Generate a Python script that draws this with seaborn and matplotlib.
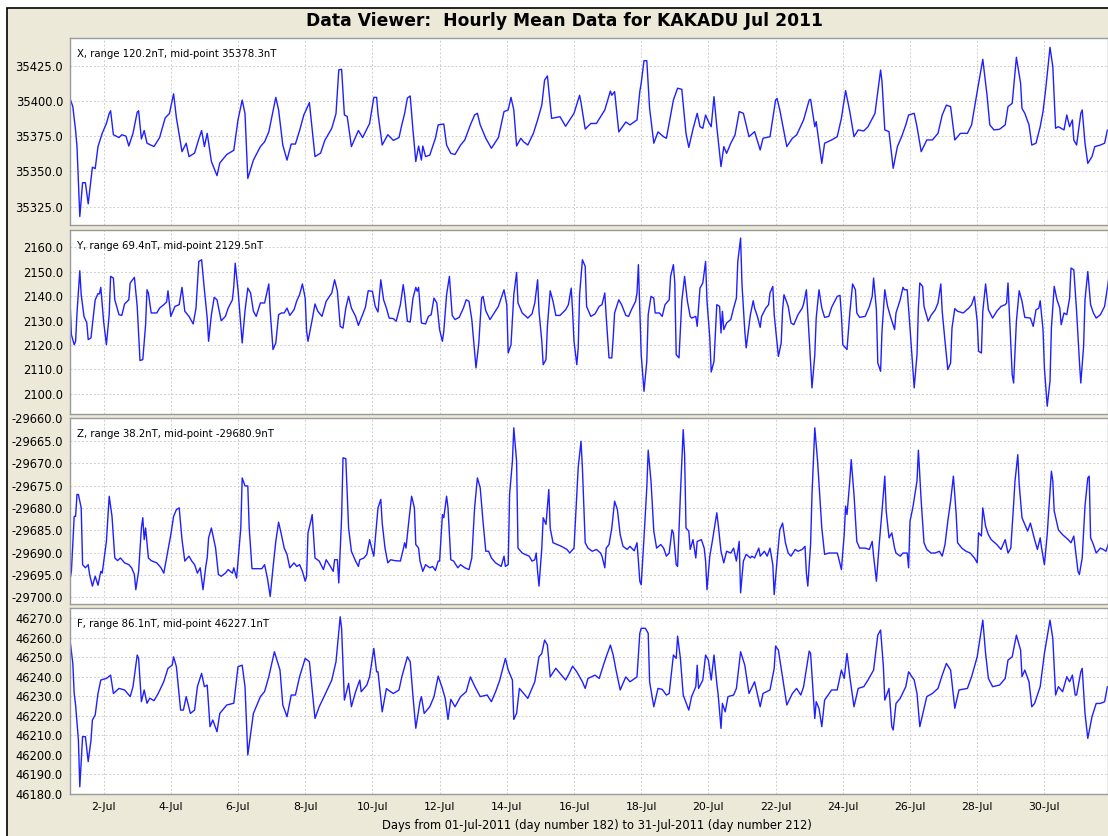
import numpy as np
import pandas as pd
import matplotlib
matplotlib.use("Agg")
import matplotlib.pyplot as plt
from matplotlib.patches import Rectangle
import seaborn as sns

# ----- Data (hourly means, read off the viewer at turning points) -----
# hours since 01-Jul-2011 00:00 UT
x_hours = [0, 2, 4, 5, 7, 9, 11, 13, 16, 18, 20, 23, 26, 28, 29, 31, 35, 37, 40, 42, 45, 48, 49, 51, 53, 55, 60, 64, 68, 71,
           74, 76, 80, 83, 85, 89, 92, 94, 96, 98, 101, 105, 107, 112, 117, 120, 123, 125, 127, 131, 136, 139, 142, 147, 149,
           152, 155, 158, 161, 164, 167, 171, 175, 179, 182, 187, 190, 192, 194, 196, 198, 201, 206, 209, 214, 217, 219, 220,
           223, 227, 231, 235, 237, 239, 241, 243, 245, 247, 249, 251, 252, 254, 257, 261, 263, 267, 269, 272, 275, 279, 282,
           286, 289, 291, 293, 297, 301, 306, 310, 313, 315, 317, 319, 322, 324, 327, 331, 334, 337, 339, 341, 344, 350, 354,
           360, 364, 365, 368, 372, 376, 382, 386, 387, 389, 392, 397, 400, 405, 407, 408, 410, 412, 414, 417, 420, 424, 426,
           431, 434, 437, 440, 442, 445, 448, 450, 452, 454, 456, 458, 460, 462, 465, 467, 469, 472, 475, 478, 481, 485, 489,
           493, 495, 500, 504, 505, 507, 512, 516, 519, 524, 528, 529, 532, 533, 537, 539, 544, 548, 551, 554, 557, 560, 563,
           567, 570, 575, 579, 580, 582, 585, 588, 591, 594, 597, 599, 603, 605, 608, 612, 616, 620, 623, 626, 629, 632, 636,
           641, 644, 648, 652, 655, 657, 660, 664, 668, 670, 673, 676, 679, 680, 682, 685, 687, 690, 693, 695, 697, 700, 702,
           704, 706, 710, 712, 714, 716, 717, 719, 722, 723, 725, 727, 730, 732, 736, 739, 741]
x_vals = [35401.8, 35396, 35379, 35367.6, 35318, 35342, 35342, 35327, 35353, 35352, 35367.6, 35377, 35384, 35391, 35393,
          35376, 35374, 35376, 35375, 35368, 35377, 35392, 35393, 35373, 35379, 35370, 35367.6, 35374, 35388, 35391, 35405,
          35388, 35364, 35370, 35360.5, 35363, 35373, 35379, 35367.6, 35377, 35357, 35347, 35356, 35362, 35365, 35386.5,
          35400.6, 35391, 35345, 35358, 35367.6, 35371, 35378, 35402.5, 35393.6, 35368.7, 35358, 35369.4, 35369.4, 35379,
          35390, 35398.8, 35360.5, 35363, 35372, 35380.6, 35391, 35422, 35422.4, 35390, 35389, 35367.6, 35379, 35374, 35384,
          35402.5, 35402.5, 35391, 35368.7, 35376, 35372, 35374, 35383, 35391, 35402, 35403.5, 35379, 35357, 35368, 35358,
          35368, 35360.5, 35361.6, 35373.5, 35383, 35383.6, 35368.7, 35362.8, 35362, 35368.7, 35372.3, 35383, 35390,
          35391.2, 35383, 35373.5, 35366.4, 35374, 35392.4, 35393.6, 35402.5, 35393.6, 35368, 35373.5, 35371, 35368.7,
          35377, 35386.5, 35397, 35414.8, 35417.7, 35387.6, 35388.8, 35382, 35391.2, 35404, 35398.8, 35380, 35384, 35384,
          35393.6, 35407, 35404, 35406.6, 35378, 35385, 35383, 35386.5, 35406.6, 35412.5, 35428.5, 35428.5, 35394.7, 35370,
          35378, 35374.6, 35373.5, 35400.6, 35409, 35408.2, 35377, 35367, 35380, 35391.2, 35381.7, 35380.6, 35390, 35385.3,
          35381.7, 35403, 35381.7, 35353.4, 35367.6, 35362.8, 35370, 35375.8, 35392.4, 35391.2, 35374.6, 35378.2, 35365.2,
          35373.5, 35374.6, 35400.6, 35401.8, 35393.6, 35367.6, 35373.5, 35375.8, 35386.5, 35400.6, 35401.1, 35381.7,
          35385.3, 35355.7, 35370, 35372.3, 35374.6, 35387.6, 35407.3, 35392.4, 35374.6, 35379.4, 35378.7, 35381.7, 35391.2,
          35421.9, 35413.7, 35379.4, 35378.2, 35352.2, 35367.6, 35374.6, 35383, 35390, 35391.2, 35381.7, 35364, 35372.3,
          35372.3, 35377, 35390, 35397, 35395.9, 35372.3, 35377, 35377, 35383, 35406.6, 35429.5, 35404.2, 35383, 35379.4,
          35379.9, 35383, 35395.9, 35398.3, 35430.9, 35412.5, 35394.7, 35391.2, 35383, 35368.7, 35370, 35381.7, 35392.4,
          35409, 35438, 35424.3, 35380.6, 35381.7, 35379.4, 35390, 35381.7, 35386.5, 35372.3, 35368.7, 35391.2, 35393.6,
          35370, 35355.7, 35360.5, 35367.6, 35368.7, 35370, 35379.4]

y_hours = [0, 1, 3, 4, 5, 7, 8, 10, 12, 13, 15, 16, 18, 20, 21, 22, 24, 26, 28, 29, 31, 32, 35, 37, 39, 42, 43, 46, 48, 50,
           52, 54, 55, 56, 58, 62, 64, 67, 69, 70, 72, 75, 78, 80, 82, 85, 88, 90, 92, 94, 96, 98, 99, 101, 103, 105, 108,
           111, 113, 116, 117, 118, 120, 123, 125, 127, 129, 131, 133, 136, 139, 142, 143, 145, 147, 149, 151, 153, 155, 157,
           160, 162, 164, 166, 168, 169, 170, 173, 175, 177, 180, 183, 187, 189, 191, 193, 195, 197, 199, 201, 204, 206, 208,
           211, 213, 216, 218, 220, 222, 224, 226, 228, 231, 233, 236, 238, 239, 241, 243, 245, 247, 248, 249, 251, 254, 256,
           258, 260, 262, 264, 266, 267, 269, 271, 273, 275, 278, 281, 283, 285, 287, 290, 292, 294, 295, 297, 300, 303, 306,
           310, 312, 313, 315, 317, 319, 320, 323, 325, 327, 330, 332, 334, 335, 337, 338, 340, 341, 343, 345, 347, 350, 354,
           356, 358, 359, 360, 362, 363, 364, 366, 368, 369, 372, 375, 378, 380, 382, 383, 385, 387, 388, 389, 392, 394, 397,
           399, 401, 404, 405, 406, 407, 408, 410, 412, 413, 415, 417, 418, 421, 423, 425, 428, 429, 431, 432, 433, 435, 437,
           439, 441, 443, 444, 447, 448, 450, 452, 454, 455, 457, 458, 460, 462, 464, 465, 466, 467, 469, 472, 474, 476, 477,
           479, 480, 482, 483, 486, 488, 489, 491, 493, 494, 497, 499, 500, 502, 503, 506, 508, 509, 510, 513, 515, 517, 520,
           523, 524, 526, 528, 530, 532, 533, 535, 537, 539, 542, 544, 548, 550, 551, 552, 555, 557, 559, 561, 562, 564, 568,
           571, 573, 574, 576, 577, 579, 580, 582, 584, 586, 589, 590, 593, 595, 596, 598, 600, 603, 605, 606, 607, 609, 610,
           613, 615, 618, 620, 622, 623, 625, 627, 629, 630, 632, 634, 638, 642, 644, 646, 648, 649, 651, 652, 654, 656, 659,
           662, 665, 668, 669, 670, 671, 673, 674, 676, 678, 680, 682, 686, 688, 690, 692, 693, 695, 696, 698, 700, 701, 703,
           705, 707, 708, 710, 712, 714, 715, 717, 719, 721, 722, 724, 725, 727, 729, 731, 733, 736, 739, 742]
y_vals = [2137.9, 2124.2, 2120.1, 2121.5, 2133.1, 2150.4, 2140.6, 2131.7, 2129, 2122.2, 2122.9, 2128.3, 2138.5, 2141,
          2140.9, 2143.6, 2129.7, 2120.1, 2132.4, 2148.1, 2147.4, 2138.5, 2132.4, 2132.1, 2136.8, 2138.5, 2145.4, 2147.7,
          2135.8, 2113.6, 2114, 2128.3, 2142.6, 2141.3, 2133.1, 2133.1, 2135.1, 2136.5, 2137.6, 2142.2, 2131.7, 2135.8,
          2136.5, 2143.6, 2133.8, 2131.7, 2128.6, 2135.1, 2154.2, 2154.9, 2142.6, 2131, 2121.5, 2132.4, 2139.5, 2138.5,
          2129.9, 2131.7, 2135.1, 2138.5, 2144, 2153.5, 2142.6, 2120.8, 2134, 2143.3, 2141.3, 2133.8, 2131.7, 2137.2, 2137.2,
          2145, 2133.8, 2118.1, 2120.8, 2132.4, 2133.1, 2133.1, 2135.1, 2132.1, 2134.4, 2138.1, 2140.6, 2145, 2139.2, 2125.6,
          2121.5, 2130.4, 2136.8, 2133.8, 2131.7, 2137.9, 2141.3, 2146.7, 2142, 2127.6, 2126.9, 2135.1, 2139.9, 2135.1,
          2131.7, 2128, 2131, 2135.4, 2142.2, 2142, 2135.8, 2133.5, 2146.7, 2138.5, 2135.1, 2131, 2130.8, 2129.7, 2136.5,
          2144.7, 2140.6, 2129.7, 2129.4, 2139.2, 2143.6, 2142, 2143.6, 2129, 2128.6, 2131.7, 2132.4, 2139.2, 2137.2, 2126.3,
          2121.5, 2125.6, 2140.6, 2148.1, 2132.1, 2130.4, 2131.3, 2135.1, 2138.5, 2137.9, 2130.4, 2110.6, 2120.8, 2139.2,
          2139.9, 2134, 2130.4, 2133.1, 2135.8, 2142.6, 2136.5, 2116.7, 2120.1, 2140.6, 2149.7, 2137.2, 2133.1, 2132.1, 2131,
          2132.7, 2137.2, 2146.7, 2133.8, 2121.5, 2111.9, 2114, 2127.6, 2142.2, 2137.9, 2132.1, 2132.1, 2134.4, 2136.5,
          2143.3, 2133.8, 2121.5, 2111.9, 2118.8, 2140.6, 2154.9, 2152.2, 2135.8, 2131.7, 2132.7, 2135.8, 2136.5, 2141.3,
          2131.7, 2114.7, 2114.7, 2122.9, 2133.1, 2138.5, 2136.5, 2132.1, 2131.7, 2134.4, 2137.9, 2141.3, 2152.9, 2133.8,
          2116, 2101, 2113.3, 2132.4, 2139.9, 2139.2, 2133.1, 2133.1, 2131.7, 2136.5, 2138.5, 2148.1, 2152.9, 2145.4, 2116,
          2114.7, 2137.9, 2148.1, 2137.9, 2131.7, 2131, 2131.7, 2127.6, 2143.3, 2145.4, 2154.2, 2137.9, 2122.9, 2108.9,
          2113.3, 2136.5, 2135.8, 2124.9, 2133.8, 2126.3, 2129, 2130.4, 2135.1, 2139.2, 2154.2, 2163.8, 2144.7, 2125.6,
          2118.8, 2132.4, 2138.1, 2135.1, 2131.7, 2127.2, 2131.7, 2135.1, 2136.5, 2141.3, 2144, 2132.4, 2115.3, 2120.8,
          2134.4, 2140.6, 2135.8, 2129, 2128.3, 2132.4, 2135.1, 2136.8, 2142.6, 2122.9, 2102.4, 2116, 2131, 2142.6, 2135.1,
          2131.3, 2131.7, 2135.4, 2139.9, 2140.3, 2132.4, 2120.1, 2118.1, 2133.1, 2145, 2142.6, 2133.1, 2131.3, 2131.7,
          2135.8, 2139.9, 2147.4, 2134.4, 2112.6, 2109.2, 2125.6, 2142.6, 2135.8, 2131.7, 2126.3, 2133.1, 2138.5, 2143.6,
          2142.6, 2142.6, 2127, 2102.4, 2116, 2135.1, 2145.4, 2144, 2135.8, 2129.7, 2132.1, 2134.4, 2137.2, 2145, 2133.8,
          2121.5, 2109.9, 2112.6, 2127, 2134.9, 2133.8, 2133.1, 2135.1, 2136.5, 2139.9, 2129.7, 2117.4, 2116.7, 2133.8, 2145,
          2134.4, 2131, 2133.8, 2135.8, 2136.5, 2137.2, 2145.4, 2133.1, 2107.8, 2104.4, 2129.7, 2142.2, 2137.9, 2131.3, 2131,
          2127.6, 2134.4, 2135.1, 2138.1, 2126.3, 2110.6, 2094.9, 2105.1, 2126.9, 2144, 2138.5, 2135.1, 2128.3, 2133.1,
          2132.4, 2139.2, 2151.5, 2150.8, 2133.8, 2113.3, 2104.4, 2119.4, 2138.5, 2150.1, 2136.5, 2133.1, 2131, 2132.4,
          2135.8, 2147.4]

z_hours = [0, 1, 3, 4, 5, 6, 8, 9, 11, 13, 14, 16, 18, 20, 22, 23, 26, 28, 30, 32, 34, 36, 39, 42, 44, 46, 47, 49, 51, 52,
           53, 54, 56, 58, 62, 65, 67, 69, 72, 74, 76, 78, 80, 82, 85, 87, 89, 91, 93, 95, 97, 98, 99, 101, 103, 104, 106,
           108, 111, 113, 116, 117, 119, 122, 123, 125, 127, 128, 130, 133, 137, 139, 141, 143, 145, 147, 149, 151, 153, 155,
           157, 160, 162, 164, 166, 168, 169, 170, 172, 173, 175, 178, 181, 183, 186, 188, 189, 191, 192, 194, 195, 197, 199,
           201, 204, 206, 207, 210, 212, 214, 216, 217, 219, 220, 222, 223, 225, 227, 229, 232, 236, 238, 239, 240, 242, 244,
           246, 247, 249, 250, 252, 254, 257, 259, 261, 263, 264, 266, 267, 269, 270, 272, 274, 277, 279, 282, 285, 287, 289,
           291, 293, 295, 297, 299, 301, 304, 306, 308, 310, 311, 313, 314, 316, 317, 319, 320, 323, 325, 328, 330, 332, 333,
           334, 335, 337, 338, 340, 342, 343, 345, 348, 351, 355, 357, 358, 360, 362, 363, 365, 366, 368, 370, 373, 376, 379,
           380, 382, 383, 385, 387, 389, 391, 393, 395, 398, 400, 403, 405, 406, 407, 408, 410, 412, 413, 415, 417, 419, 422,
           424, 426, 428, 430, 431, 433, 434, 436, 438, 439, 440, 442, 443, 445, 447, 448, 451, 453, 454, 455, 457, 459, 462,
           463, 465, 467, 469, 472, 474, 476, 478, 479, 481, 483, 486, 487, 489, 492, 493, 496, 498, 500, 502, 503, 505, 507,
           509, 511, 513, 515, 518, 520, 523, 525, 526, 527, 529, 530, 532, 534, 537, 539, 542, 544, 548, 549, 551, 553, 554,
           555, 557, 558, 560, 562, 564, 568, 571, 573, 574, 576, 578, 580, 582, 583, 585, 587, 589, 590, 593, 595, 598, 599,
           600, 602, 605, 606, 608, 610, 612, 615, 618, 621, 623, 625, 627, 629, 631, 633, 634, 637, 640, 643, 646, 648, 649,
           651, 652, 654, 656, 658, 662, 665, 668, 670, 672, 674, 675, 677, 678, 680, 682, 684, 686, 689, 691, 693, 694, 696,
           698, 699, 701, 702, 703, 706, 709, 713, 715, 717, 718, 720, 721, 723, 725, 727, 728, 729, 731, 733, 736, 738, 740,
           742]
z_vals = [-29696, -29694.2, -29681.9, -29681.9, -29677, -29677, -29680, -29692.7, -29693.4, -29692.7, -29694.9, -29697.5,
          -29695.3, -29697.3, -29694.2, -29694.6, -29687.5, -29677.4, -29681.9, -29691.2, -29691.8, -29691.2, -29692.3,
          -29692.7, -29693.4, -29694.9, -29698.3, -29694.2, -29684.5, -29682.2, -29687.1, -29684.5, -29691.2, -29691.8,
          -29692.3, -29693.4, -29694.6, -29691.2, -29686, -29681.9, -29680.4, -29680, -29687.1, -29691.9, -29690.8,
          -29691.9, -29692.7, -29694.6, -29693.4, -29698.3, -29693.1, -29691.2, -29686.7, -29684.5, -29687.5, -29689,
          -29694.9, -29695.3, -29694.6, -29693.8, -29694.6, -29693.4, -29695.7, -29684.5, -29673.3, -29675.1, -29675.1,
          -29684.5, -29693.6, -29693.6, -29693.6, -29692.7, -29695.7, -29699.8, -29693.4, -29687.5, -29683.2, -29686,
          -29689, -29690.4, -29693.4, -29692.3, -29693.1, -29692.7, -29694.2, -29696.4, -29695.3, -29685.6, -29683,
          -29681.5, -29691.2, -29691.9, -29693.8, -29691.6, -29693.1, -29694.2, -29691.6, -29691.6, -29696.8, -29682.2,
          -29668.8, -29669, -29684.5, -29689.7, -29691.9, -29693.1, -29691.6, -29691.2, -29690.4, -29687.1, -29689.7,
          -29690.8, -29683.7, -29680, -29678.1, -29683.4, -29689, -29692.3, -29691.6, -29691.8, -29691.9, -29689.3,
          -29687.8, -29689, -29683, -29677.4, -29680, -29688.2, -29689, -29691.9, -29694.2, -29692.7, -29693.4, -29693.1,
          -29694, -29691.9, -29691.9, -29681.5, -29682.2, -29677.4, -29680, -29691.6, -29691.9, -29693.4, -29692.7,
          -29693.4, -29693.8, -29691.2, -29680, -29673.3, -29675.5, -29683, -29689.7, -29689.7, -29691.2, -29692.3,
          -29692.7, -29693.1, -29690.8, -29693.1, -29692.7, -29677, -29669.6, -29662.1, -29669.6, -29689, -29690.1,
          -29690.4, -29690.8, -29691.9, -29691.6, -29690.1, -29694.2, -29697.5, -29689, -29682.2, -29683.7, -29675.9,
          -29684.5, -29687.8, -29688.2, -29688.6, -29689.3, -29690.1, -29689.7, -29689, -29677, -29671, -29665.1, -29671,
          -29687.8, -29689, -29689.7, -29689.3, -29690.1, -29690.8, -29693.4, -29689, -29688.2, -29684.5, -29678.5,
          -29680.4, -29686, -29688.6, -29689.3, -29688.6, -29689.6, -29687.8, -29691.9, -29696.4, -29697.2, -29686.7,
          -29675.5, -29667.1, -29674, -29685.2, -29689, -29688.2, -29689, -29690.8, -29690.1, -29684.9, -29685.6, -29692.7,
          -29693.1, -29677, -29662.5, -29668.1, -29684.5, -29685.2, -29689.3, -29687.1, -29691.2, -29687.5, -29687.1,
          -29689, -29691.9, -29698.3, -29690.8, -29687.1, -29681.1, -29683.7, -29689.7, -29692.3, -29689.7, -29690.1,
          -29689, -29691.9, -29687.5, -29699, -29691.9, -29690.4, -29691.2, -29690.8, -29691.2, -29689, -29690.8, -29689.7,
          -29690.8, -29689, -29692.7, -29699.4, -29691.9, -29684.9, -29683.4, -29687.8, -29690.1, -29690.8, -29689.3,
          -29689.7, -29689.3, -29688.6, -29694.6, -29697.5, -29688.2, -29677, -29662.1, -29669.6, -29684.5, -29690.4,
          -29690.1, -29690.1, -29690.1, -29691.2, -29693.8, -29686, -29679.6, -29681.5, -29674, -29669.2, -29677, -29687.5,
          -29689, -29689, -29689.3, -29687.5, -29690.8, -29696.4, -29688.2, -29680.7, -29672.9, -29680.7, -29686.7,
          -29685.6, -29689, -29690.1, -29690.8, -29690.1, -29690.1, -29693.4, -29683, -29680, -29674, -29667.1, -29678.5,
          -29687.8, -29689.3, -29690.1, -29690.1, -29689.7, -29690.8, -29688.2, -29683, -29678.5, -29672.9, -29681.5,
          -29687.8, -29689, -29689.7, -29690.1, -29691.2, -29692.3, -29685.6, -29686.3, -29680, -29684.1, -29686, -29687.1,
          -29688.2, -29689.3, -29687.1, -29690.1, -29689, -29679.3, -29674, -29668.1, -29674.8, -29682.2, -29683.7,
          -29685.2, -29683.4, -29687.1, -29689.3, -29686.7, -29689, -29692.7, -29686, -29681.1, -29671.8, -29674, -29680.7,
          -29684.9, -29686, -29687.1, -29687.8, -29686.3, -29689, -29694.2, -29694.9, -29691.2, -29679.6, -29673.3,
          -29672.9, -29686.7, -29688.2, -29690.1, -29689, -29689.3, -29689.7, -29687.8]

f_hours = [0, 2, 3, 4, 6, 7, 9, 11, 13, 15, 16, 18, 20, 22, 26, 29, 31, 35, 39, 43, 45, 48, 49, 51, 53, 55, 57, 60, 63, 67,
           70, 73, 74, 76, 79, 81, 83, 86, 89, 91, 94, 96, 98, 100, 102, 105, 107, 112, 117, 120, 123, 125, 127, 131, 136,
           139, 142, 146, 150, 152, 155, 158, 161, 164, 168, 171, 175, 178, 182, 187, 190, 193, 194, 196, 199, 201, 204, 207,
           208, 212, 214, 217, 219, 220, 223, 226, 229, 231, 235, 237, 241, 243, 245, 247, 250, 251, 253, 257, 260, 263, 266,
           268, 270, 272, 275, 279, 283, 286, 289, 293, 298, 301, 304, 307, 311, 313, 316, 317, 319, 321, 323, 327, 330, 332,
           335, 337, 339, 341, 343, 347, 350, 354, 356, 359, 362, 366, 368, 370, 375, 378, 381, 383, 386, 388, 390, 393, 397,
           400, 405, 407, 408, 411, 413, 414, 417, 420, 423, 426, 428, 431, 433, 434, 436, 438, 442, 444, 447, 448, 449, 452,
           454, 456, 458, 460, 462, 463, 465, 466, 468, 470, 474, 476, 479, 482, 485, 489, 493, 495, 500, 503, 504, 506, 508,
           512, 516, 519, 522, 524, 528, 529, 532, 533, 535, 537, 539, 544, 548, 551, 553, 555, 557, 560, 563, 567, 570, 574,
           577, 579, 581, 582, 585, 587, 588, 590, 593, 597, 599, 603, 605, 607, 612, 616, 620, 623, 626, 629, 632, 635, 641,
           644, 648, 652, 654, 656, 659, 664, 668, 670, 673, 676, 679, 680, 682, 685, 687, 689, 693, 696, 700, 702, 704, 706,
           709, 712, 714, 716, 718, 719, 722, 723, 725, 727, 730, 733, 736, 739, 741]
f_vals = [46258.9, 46247, 46231.5, 46225.6, 46207.6, 46183.7, 46209.4, 46209.4, 46196.6, 46207.6, 46217.9, 46220.5, 46231.5,
          46238.4, 46239.2, 46240.9, 46231.5, 46234.1, 46233.3, 46229.9, 46235, 46251.2, 46249.5, 46227.3, 46233.3, 46226.5,
          46229.1, 46227.8, 46231.5, 46237.6, 46244.4, 46246, 46250.3, 46245.2, 46223, 46223, 46229.9, 46221.3, 46223, 46235,
          46241.8, 46235, 46235.8, 46214.5, 46217.9, 46211.9, 46221.3, 46225.6, 46226.5, 46245.2, 46246, 46235, 46200,
          46221.3, 46229.9, 46232.5, 46240.1, 46252.9, 46243.5, 46225.6, 46219.6, 46230.7, 46230.7, 46240.1, 46249.5,
          46247.8, 46218.7, 46224.7, 46230.7, 46238.4, 46247.8, 46270.8, 46264.8, 46228.1, 46236.7, 46224.7, 46232.4,
          46238.4, 46232.4, 46235.8, 46240.1, 46254.6, 46242.6, 46242.6, 46222.1, 46234, 46232.4, 46231.5, 46233.3, 46240,
          46250.3, 46247.8, 46229.9, 46213.7, 46227.3, 46229.9, 46221.3, 46224.7, 46229.9, 46240.4, 46234.1, 46229, 46218.2,
          46228.5, 46224.7, 46229.9, 46232.4, 46240, 46235.3, 46229.9, 46230.7, 46227.3, 46232.4, 46238.4, 46249.5, 46243.5,
          46238.4, 46218.2, 46221.3, 46234.1, 46232.4, 46229, 46234.1, 46237.5, 46250.3, 46252, 46258.9, 46256.3, 46240,
          46244.4, 46241.8, 46238.4, 46241, 46245.5, 46242.6, 46237.5, 46234.1, 46239.2, 46240.9, 46239.2, 46246, 46250.3,
          46256.3, 46251.2, 46243.5, 46233.3, 46240, 46237.5, 46240, 46262.3, 46264.9, 46264.9, 46262.3, 46237.5, 46224.7,
          46234.1, 46233.6, 46230.7, 46231.5, 46251.2, 46249.5, 46260.9, 46249.5, 46230.7, 46223, 46229.9, 46235, 46246,
          46234.1, 46238.4, 46251.2, 46248.6, 46238.4, 46251.2, 46236.7, 46230.7, 46213.6, 46226.4, 46222.1, 46229.9,
          46230.7, 46234.1, 46252.9, 46246, 46231.5, 46237.5, 46224.7, 46231.5, 46233.3, 46244.4, 46255.8, 46253.7, 46244.4,
          46225.6, 46231.5, 46234.1, 46230.7, 46235, 46253.2, 46252, 46218.7, 46227.3, 46223.9, 46214.5, 46228.1, 46233.3,
          46233.3, 46243.5, 46239.2, 46252, 46240.1, 46224.7, 46234.1, 46235, 46238.4, 46243.5, 46261.4, 46264, 46245.2,
          46228.1, 46234.1, 46214.5, 46212.8, 46226.4, 46229, 46235, 46242.6, 46238.4, 46231.5, 46214.5, 46229.9, 46231.5,
          46234.1, 46240.9, 46246.9, 46243.5, 46223.9, 46233.3, 46234.1, 46240.1, 46250.3, 46269.1, 46252, 46239.2, 46235,
          46235.8, 46239.2, 46248.6, 46250.3, 46261.4, 46253.7, 46240.1, 46243.5, 46237.5, 46224.7, 46226.4, 46235, 46252,
          46269.1, 46259.7, 46230.7, 46235, 46232.4, 46240.1, 46237.5, 46240.9, 46230.7, 46230.7, 46242.6, 46244.4, 46221.3,
          46208.5, 46219.6, 46226.4, 46226.4, 46227.3, 46235]

panel_names = ["X", "Y", "Z", "F"]
panel_notes = ["X, range 120.2nT, mid-point 35378.3nT",
               "Y, range 69.4nT, mid-point 2129.5nT",
               "Z, range 38.2nT, mid-point -29680.9nT",
               "F, range 86.1nT, mid-point 46227.1nT"]
panel_yticks = [[35325, 35350, 35375, 35400, 35425],
                [2100, 2110, 2120, 2130, 2140, 2150, 2160],
                [-29700, -29695, -29690, -29685, -29680, -29675, -29670, -29665, -29660],
                [46180, 46190, 46200, 46210, 46220, 46230, 46240, 46250, 46260, 46270]]
panel_ylims = [(35312.0, 35444.6), (2091.7, 2167.1), (-29701.5, -29659.9), (46180.0, 46275.3)]
date_ticks = [1, 3, 5, 7, 9, 11, 13, 15, 17, 19, 21, 23, 25, 27, 29]
date_labels = ["2-Jul", "4-Jul", "6-Jul", "8-Jul", "10-Jul", "12-Jul", "14-Jul", "16-Jul",
               "18-Jul", "20-Jul", "22-Jul", "24-Jul", "26-Jul", "28-Jul", "30-Jul"]

series = {
    "X": pd.DataFrame({"day": np.array(x_hours) / 24.0, "nT": x_vals}),
    "Y": pd.DataFrame({"day": np.array(y_hours) / 24.0, "nT": y_vals}),
    "Z": pd.DataFrame({"day": np.array(z_hours) / 24.0, "nT": z_vals}),
    "F": pd.DataFrame({"day": np.array(f_hours) / 24.0, "nT": f_vals}),
}

# ----- Figure -----
sns.set_style("white")
plt.rcParams["font.family"] = ["DejaVu Sans"]
plt.rcParams["text.color"] = "black"
plt.rcParams["xtick.color"] = "black"
plt.rcParams["ytick.color"] = "black"

W, H = 1108, 836
fig = plt.figure(figsize=(W / 100, H / 100), dpi=100, facecolor="white")
bg = "#ECE9D8"
fig.patches.append(Rectangle((7 / W, -0.05), 1.1, 1 - 8 / H + 0.05, transform=fig.transFigure,
                             facecolor=bg, edgecolor="black", lw=1.2, zorder=-5))

fig.text(564 / W, 1 - 21 / H, "Data Viewer:  Hourly Mean Data for KAKADU Jul 2011",
         ha="center", va="center", fontsize=12.3, fontweight="bold", color="black")

# panel pixel extents (top, bottom)
extents = [(38, 225), (230, 414), (418, 604), (608, 794)]
left = 70 / W
xmax = (W - 70) / 33.6

for i, name in enumerate(panel_names):
    top, bot = extents[i]
    ax = fig.add_axes([left, 1 - bot / H, 1.0 - left, (bot - top) / H])
    ax.set_facecolor("white")
    sns.lineplot(data=series[name], x="day", y="nT", ax=ax, color="#1f1fff", lw=1.0,
                 estimator=None, sort=False)
    ax.set_xlim(0, xmax)
    ax.set_ylim(*panel_ylims[i])
    ax.set_yticks(panel_yticks[i])
    ax.set_yticklabels([f"{v:.1f}" for v in panel_yticks[i]])
    ax.set_xticks(date_ticks)
    ax.grid(True, color="#cfcfcf", lw=0.7, ls=(0, (2, 2)))
    ax.set_xlabel("")
    ax.set_ylabel("")
    for s in ax.spines.values():
        s.set_color("#9a9a9a")
        s.set_linewidth(1.0)
    ax.tick_params(axis="y", length=3, width=0.8, color="#777777", labelcolor="black", pad=2, labelsize=8.3)
    if i < 3:
        ax.tick_params(axis="x", length=0, labelbottom=False)
    else:
        ax.set_xticklabels(date_labels)
        ax.tick_params(axis="x", length=3, width=0.8, color="#777777", labelcolor="black", pad=3, labelsize=7.8)
    ax.text(0.007, 0.915, panel_notes[i], transform=ax.transAxes, fontsize=7.3, va="center", ha="left",
            color="black")

fig.text(597 / W, 1 - 825 / H,
         "Days from 01-Jul-2011 (day number 182) to 31-Jul-2011 (day number 212)",
         ha="center", va="center", fontsize=8.3, color="black")

fig.savefig("out.png", dpi=100, facecolor=fig.get_facecolor())
